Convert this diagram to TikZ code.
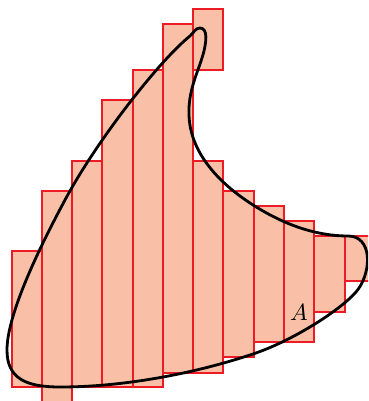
\documentclass[tikz,border=0pt]{standalone}
\begin{document}
\begin{tikzpicture}[x=1pt,y=-1pt,
  bar/.style={draw=barred,fill=barfill,line width=1.8pt},
  regionline/.style={draw=black,line width=2.8pt}]
\definecolor{barfill}{RGB}{249,191,167}
\definecolor{barred}{RGB}{237,28,36}
\useasboundingbox (0,0) rectangle (368,401);
\clip (0,0) rectangle (368,401);
% columns
\draw[bar] (11.7,251) rectangle (41.7,386.7);
\draw[bar] (41.7,190.7) rectangle (72,412);
\draw[bar] (72,160.7) rectangle (102,386.7);
\draw[bar] (102,100) rectangle (132.7,386.7);
\draw[bar] (132.7,70) rectangle (163,386.7);
\draw[bar] (163,24.3) rectangle (193,372.7);
\draw[bar] (193,9.3) rectangle (223,70.3);
\draw[bar] (193,160.7) rectangle (223,372.7);
\draw[bar] (223,190.7) rectangle (254,356.7);
\draw[bar] (254,205.7) rectangle (284,341.7);
\draw[bar] (284,221) rectangle (314,341.7);
\draw[bar] (314,236) rectangle (344.7,311.7);
\draw[bar] (344.7,236) rectangle (375,280.7);
% region
\draw[regionline,line join=round]
 (200,28) .. controls (208,28) and (207,42) .. (202,58)
 .. controls (197,74) and (188,92) .. (189,115)
 .. controls (190,150) and (215,180) .. (250,203)
 .. controls (285,226) and (318,236) .. (348,236)
 .. controls (372,236) and (372,270) .. (358,289.5)
 .. controls (345,307) and (295,340) .. (253,354)
 .. controls (190,375) and (120,387) .. (60,387)
 .. controls (25,387) and (7,378) .. (7,350)
 .. controls (7,320) and (30,265) .. (65,200)
 .. controls (97,140) and (160,60) .. (190,36)
 .. controls (194,32.8) and (195,28) .. (200,28) -- cycle;
\node[scale=2.35] (lab) at (299,312) {$A$};
\end{tikzpicture}
\end{document}
